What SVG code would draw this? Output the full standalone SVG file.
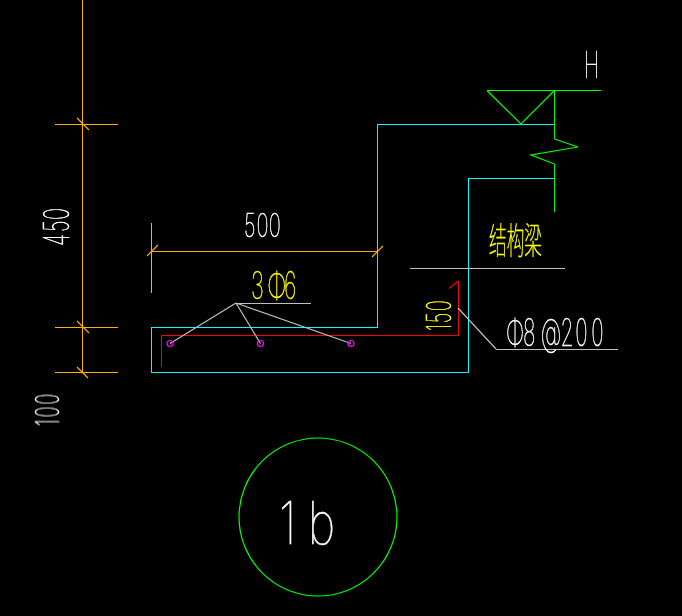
<svg xmlns="http://www.w3.org/2000/svg" width="682" height="616" viewBox="0 0 682 616">
<style>
.l{fill:none;stroke-width:1;shape-rendering:crispEdges}
.t{fill:none;stroke-width:1.2}
.o{stroke:#ffb000}.c{stroke:#00ffff}.r{stroke:#ff0000}.g{stroke:#00ff00}.s{stroke:#c0c0c0}.m{stroke:#ff00ff}
text{font-family:Inter,"Liberation Sans","Noto Sans CJK SC",sans-serif;font-weight:100;stroke-width:.6}
.w{fill:#fff;stroke:#fff}.y{fill:#ffff00;stroke:#ffff00}
#labels,#callout-1b{opacity:.999}
</style>
<rect width="682" height="616" fill="#000"/>
<g id="connectors">
<path class="l o" d="M82.5 0V372.5M55 124.5H118M55 327.5H118M55 372.5H118M151.5 223V293M151.5 251.5H378"/>
<path class="t o" d="M77 118L89 130M77 321L89 333M77 367L88 378M147 256L158 245M372 257L383 246"/>
<path class="l c" d="M554 124.5H377.5V327.5H151.5V372.5H468.5V178.5H554"/>
<path class="l r" d="M161.500 367V335.500H458.500V281"/>
<path class="t r" d="M458.500 281L449 288.500"/>
<path class="t s" d="M170 343.500L236 303M260.500 343.500L236 303M351 343.500L236 303M458 308L496 349"/>
<path class="l s" d="M236 303.500H311M496 349.500H618M410 268.500H565"/>
<path class="l g" d="M487 90.500H601M554.500 90.500V139M554.500 164V212"/>
<path class="t g" d="M487 90.500L521 124L554.500 90.500M554.500 139L578 147L531 155L554.500 164"/>
</g>
<g id="bars" class="t m">
<circle cx="170" cy="343.500" r="3"/><circle cx="260.500" cy="343.500" r="3"/><circle cx="351" cy="343.500" r="3"/>
</g>
<g id="callout-1b">
<circle class="t g" cx="318" cy="517" r="79"/>
<text class="w" transform="translate(279 544) scale(.8 1)" font-size="59" x="0 36">1b</text>
</g>
<g id="labels">
<text class="w" x="584" y="78" font-size="36" textLength="15" lengthAdjust="spacingAndGlyphs">H</text>
<text class="w" transform="translate(244 237) scale(.62 1)" font-size="33" x="0 20 40">500</text>
<text class="w" transform="translate(69 246) rotate(-90) scale(.58 1)" font-size="35" x="0 24 45">450</text>
<text class="w" transform="translate(59 426) rotate(-90) scale(.55 1)" font-size="33" x="0 16 39">100</text>
<text class="y" transform="translate(251 299) scale(.58 1)" font-size="38" x="0 28 57">3Φ6</text>
<text class="y" transform="translate(451 331) rotate(-90) scale(.55 1)" font-size="34" x="0 14 36">150</text>
<text class="w" transform="translate(506 346) scale(.55 1)" font-size="38" x="0 31 54 63 99 126 155">Φ8 @200</text>
<text class="y" x="489" y="254" font-size="36" textLength="53" lengthAdjust="spacingAndGlyphs">结构梁</text>
</g>
</svg>
